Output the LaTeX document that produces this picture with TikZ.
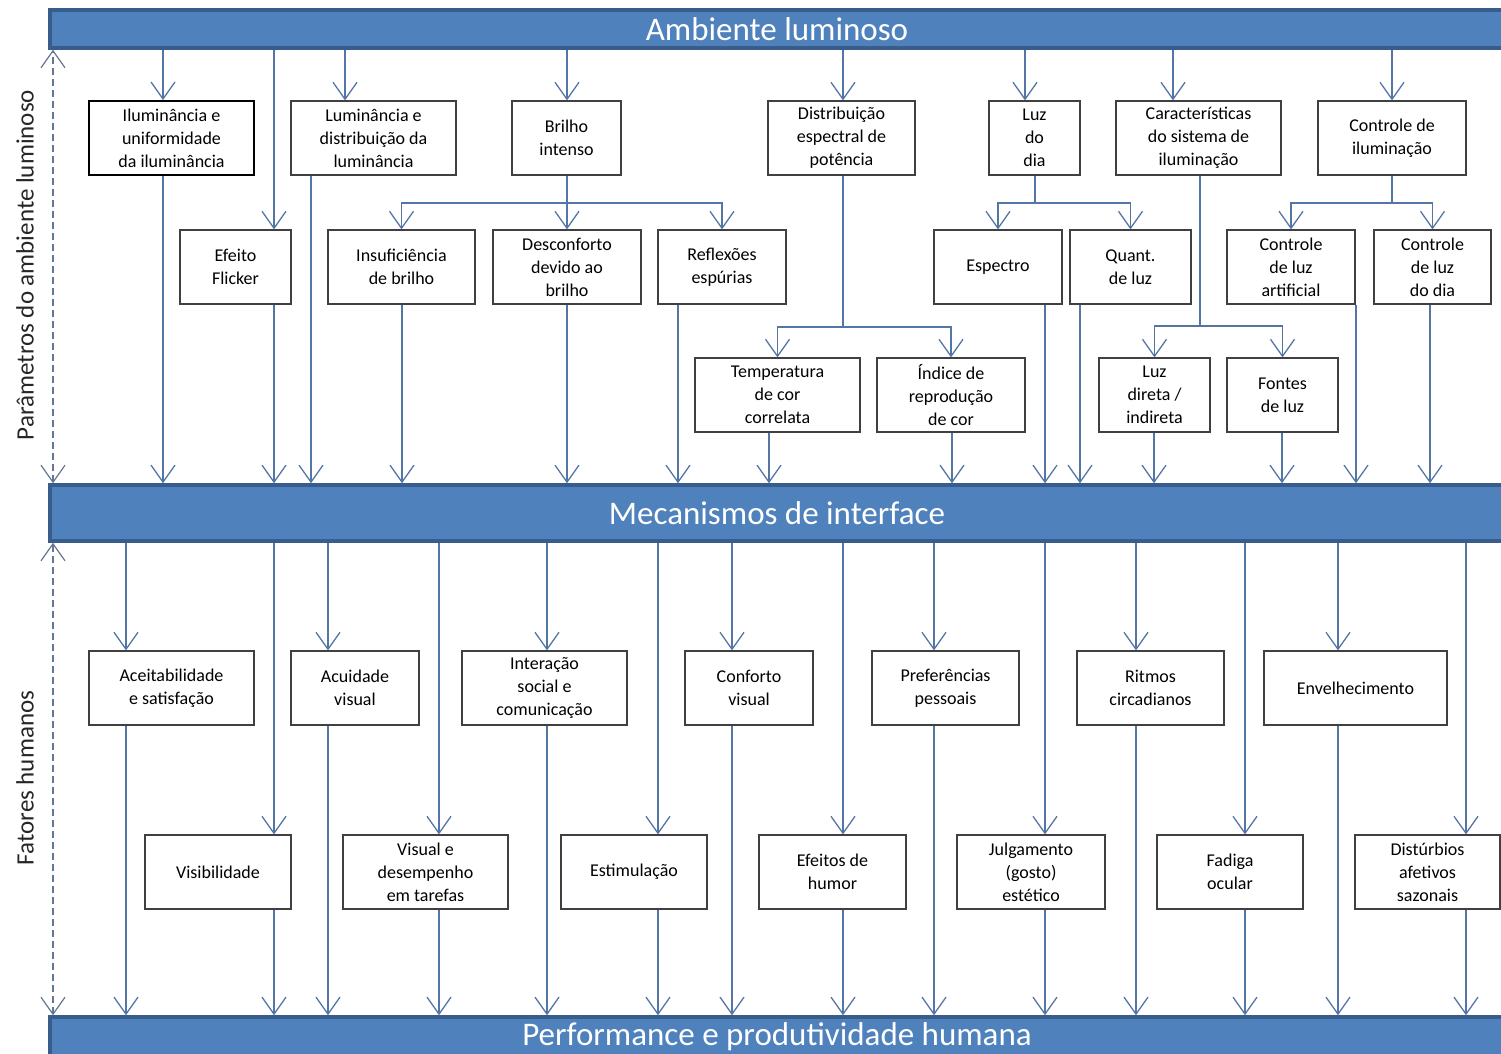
\documentclass[tikz,border=0pt]{standalone}
\usepackage{fontspec}
\setmainfont{Carlito}
\usetikzlibrary{arrows.meta}
\definecolor{barfill}{RGB}{79,129,189}
\definecolor{barline}{RGB}{56,93,138}
\definecolor{conn}{RGB}{84,118,165}
\definecolor{boxline}{RGB}{64,64,64}
\definecolor{axisline}{RGB}{100,118,145}
\tikzset{
  bar/.style={draw=barline, fill=barfill, line width=3.5pt, inner sep=0pt,
    text=white, font=\fontsize{33}{36}\selectfont},
  box/.style={draw=boxline, line width=1.2pt, fill=white, inner sep=0pt,
    align=center, font=\fontsize{18}{23}\selectfont},
  strong/.style={draw=black, line width=1.8pt},
  ln/.style={draw=conn, line width=1.3pt},
  arr/.style={ln, -{Straight Barb[length=17pt,width=24pt,line width=1.3pt]}},
  axisarr/.style={draw=axisline, line width=1.2pt, dash pattern=on 7pt off 4pt,
    {Straight Barb[length=17pt,width=24pt,line width=1.2pt]}-{Straight Barb[length=17pt,width=24pt,line width=1.2pt]}},
  sidelabel/.style={rotate=90, font=\fontsize{25}{28}\selectfont, text=black!85}
}
% box: [options]{name}{x1}{y1}{x2}{y2}{text}
\newcommand\bx[7][]{\node[box,#1,minimum width={#5-#3},minimum height={#6-#4}] (#2) at ({(#3+#5)/2},{(#4+#6)/2}) {#7};}
% vertical arrow at a given x from one node edge to another
\newcommand\varr[3]{\draw[arr] (#1 -| #3,0) -- (#2 -| #3,0);}
\begin{document}
\begin{tikzpicture}[x=1pt,y=-1pt]
\useasboundingbox (0,0) rectangle (1501,1054);

% bars
\node[bar, minimum width=1454, minimum height=38] (top) at (777,29) {Ambiente luminoso};
\node[bar, minimum width=1454, minimum height=56] (mid) at (777,513) {Mecanismos de interface};
\node[bar, minimum width=1454, minimum height=40] (bot) at (777,1037) {Performance e produtividade humana};

% side axes and labels
\draw[axisarr] (mid.north -| 53,0) -- (top.south -| 53,0);
\draw[axisarr] (bot.north -| 53,0) -- (mid.south -| 53,0);
\node[sidelabel] (lab1) at (25,265) {Parâmetros do ambiente luminoso};
\node[sidelabel] (lab2) at (25,778) {Fatores humanos};

% first row of lighting parameters
\bx[strong]{ilum}{89}{101}{254}{175}{Iluminância e\\uniformidade\\da iluminância}
\bx{lumin}{291}{101}{456}{175}{Luminância e\\distribuição da\\luminância}
\bx{brilho}{512}{101}{621}{175}{Brilho\\intenso}
\bx{distrib}{768}{101}{915}{175}{Distribuição\\espectral de\\potência}
\bx{luzdia}{989}{101}{1080}{175}{Luz\\do\\dia}
\bx{carac}{1116}{101}{1281}{175}{Características\\do sistema de\\iluminação}
\bx{ctrl}{1318}{101}{1466}{175}{Controle de\\iluminação}

% second row
\bx{flicker}{180}{230}{291}{304}{Efeito\\Flicker}
\bx{insuf}{328}{230}{475}{304}{Insuficiência\\de brilho}
\bx{desc}{493}{230}{641}{304}{Desconforto\\devido ao\\brilho}
\bx{refl}{658}{230}{786}{304}{Reflexões\\espúrias}
\bx{espectro}{934}{230}{1062}{304}{Espectro}
\bx{quant}{1070}{230}{1191}{304}{Quant.\\de luz}
\bx{ctrlart}{1227}{230}{1355}{304}{Controle\\de luz\\artificial}
\bx{ctrldia}{1374}{230}{1491}{304}{Controle\\de luz\\do dia}

% third row
\bx{temp}{695}{358}{860}{432}{Temperatura\\de cor\\correlata}
\bx{indice}{877}{358}{1025}{432}{Índice de\\reprodução\\de cor}
\bx{direta}{1099}{358}{1210}{432}{Luz\\direta /\\indireta}
\bx{fontes}{1227}{358}{1338}{432}{Fontes\\de luz}

% human factors, upper row
\bx{aceit}{89}{651}{254}{725}{Aceitabilidade\\e satisfação}
\bx{acuid}{291}{651}{419}{725}{Acuidade\\visual}
\bx{inter}{462}{651}{627}{725}{Interação\\social e\\comunicação}
\bx{confort}{685}{651}{813}{725}{Conforto\\visual}
\bx{pref}{872}{651}{1019}{725}{Preferências\\pessoais}
\bx{ritmos}{1077}{651}{1224}{725}{Ritmos\\circadianos}
\bx{envelh}{1264}{651}{1447}{725}{Envelhecimento}

% human factors, lower row
\bx{visib}{145}{835}{291}{909}{Visibilidade}
\bx{visdes}{343}{835}{508}{909}{Visual e\\desempenho\\em tarefas}
\bx{estim}{561}{835}{707}{909}{Estimulação}
\bx{humor}{759}{835}{906}{909}{Efeitos de\\humor}
\bx{julg}{957}{835}{1105}{909}{Julgamento\\(gosto)\\estético}
\bx{fadiga}{1157}{835}{1303}{909}{Fadiga\\ocular}
\bx{distur}{1355}{835}{1500}{909}{Distúrbios\\afetivos\\sazonais}

% lighting environment -> parameters
\varr{top.south}{ilum.north}{163}
\varr{top.south}{flicker.north}{274}
\varr{top.south}{lumin.north}{345}
\varr{top.south}{brilho.north}{567}
\varr{top.south}{distrib.north}{843}
\varr{top.south}{luzdia.north}{1025}
\varr{top.south}{carac.north}{1173}
\varr{top.south}{ctrl.north}{1392}

% sub-parameter branches
\coordinate (jb) at (567,203);
\draw[ln] (brilho.south -| jb) -- (jb);
\draw[arr] (jb) -| (insuf.north);
\draw[arr] (jb) -- (desc.north -| jb);
\draw[arr] (jb) -| (refl.north);

\coordinate (jl) at (1035,203);
\draw[ln] (luzdia.south -| jl) -- (jl);
\draw[arr] (jl) -| (espectro.north);
\draw[arr] (jl) -| (quant.north);

\coordinate (jc) at (1392,203);
\draw[ln] (ctrl.south) -- (jc);
\draw[arr] (jc) -| (ctrlart.north);
\draw[arr] (jc) -| (ctrldia.north);

\coordinate (jd) at (843,327);
\draw[ln] (distrib.south -| jd) -- (jd);
\draw[arr] (jd) -| (temp.north);
\draw[arr] (jd) -| (indice.north);

\coordinate (jk) at (1200,326);
\draw[ln] (carac.south -| jk) -- (jk);
\draw[arr] (jk) -| (direta.north);
\draw[arr] (jk) -| (fontes.north);

% parameters -> interface mechanisms
\varr{ilum.south}{mid.north}{163}
\varr{flicker.south}{mid.north}{274}
\varr{lumin.south}{mid.north}{311}
\varr{insuf.south}{mid.north}{402}
\varr{desc.south}{mid.north}{567}
\varr{refl.south}{mid.north}{678}
\varr{temp.south}{mid.north}{769}
\varr{indice.south}{mid.north}{952}
\varr{espectro.south}{mid.north}{1045}
\varr{quant.south}{mid.north}{1080}
\varr{direta.south}{mid.north}{1154}
\varr{fontes.south}{mid.north}{1282}
\varr{ctrlart.south}{mid.north}{1356}
\varr{ctrldia.south}{mid.north}{1430}

% interface mechanisms -> human factors
\varr{mid.south}{aceit.north}{126}
\varr{mid.south}{visib.north}{274}
\varr{mid.south}{acuid.north}{328}
\varr{mid.south}{visdes.north}{439}
\varr{mid.south}{inter.north}{547}
\varr{mid.south}{estim.north}{658}
\varr{mid.south}{confort.north}{732}
\varr{mid.south}{humor.north}{843}
\varr{mid.south}{pref.north}{934}
\varr{mid.south}{julg.north}{1045}
\varr{mid.south}{ritmos.north}{1136}
\varr{mid.south}{fadiga.north}{1245}
\varr{mid.south}{envelh.north}{1338}
\varr{mid.south}{distur.north}{1466}

% human factors -> performance
\varr{aceit.south}{bot.north}{126}
\varr{visib.south}{bot.north}{274}
\varr{acuid.south}{bot.north}{328}
\varr{visdes.south}{bot.north}{439}
\varr{inter.south}{bot.north}{547}
\varr{estim.south}{bot.north}{658}
\varr{confort.south}{bot.north}{732}
\varr{humor.south}{bot.north}{843}
\varr{pref.south}{bot.north}{934}
\varr{julg.south}{bot.north}{1045}
\varr{ritmos.south}{bot.north}{1136}
\varr{fadiga.south}{bot.north}{1245}
\varr{envelh.south}{bot.north}{1338}
\varr{distur.south}{bot.north}{1466}
\end{tikzpicture}
\end{document}
